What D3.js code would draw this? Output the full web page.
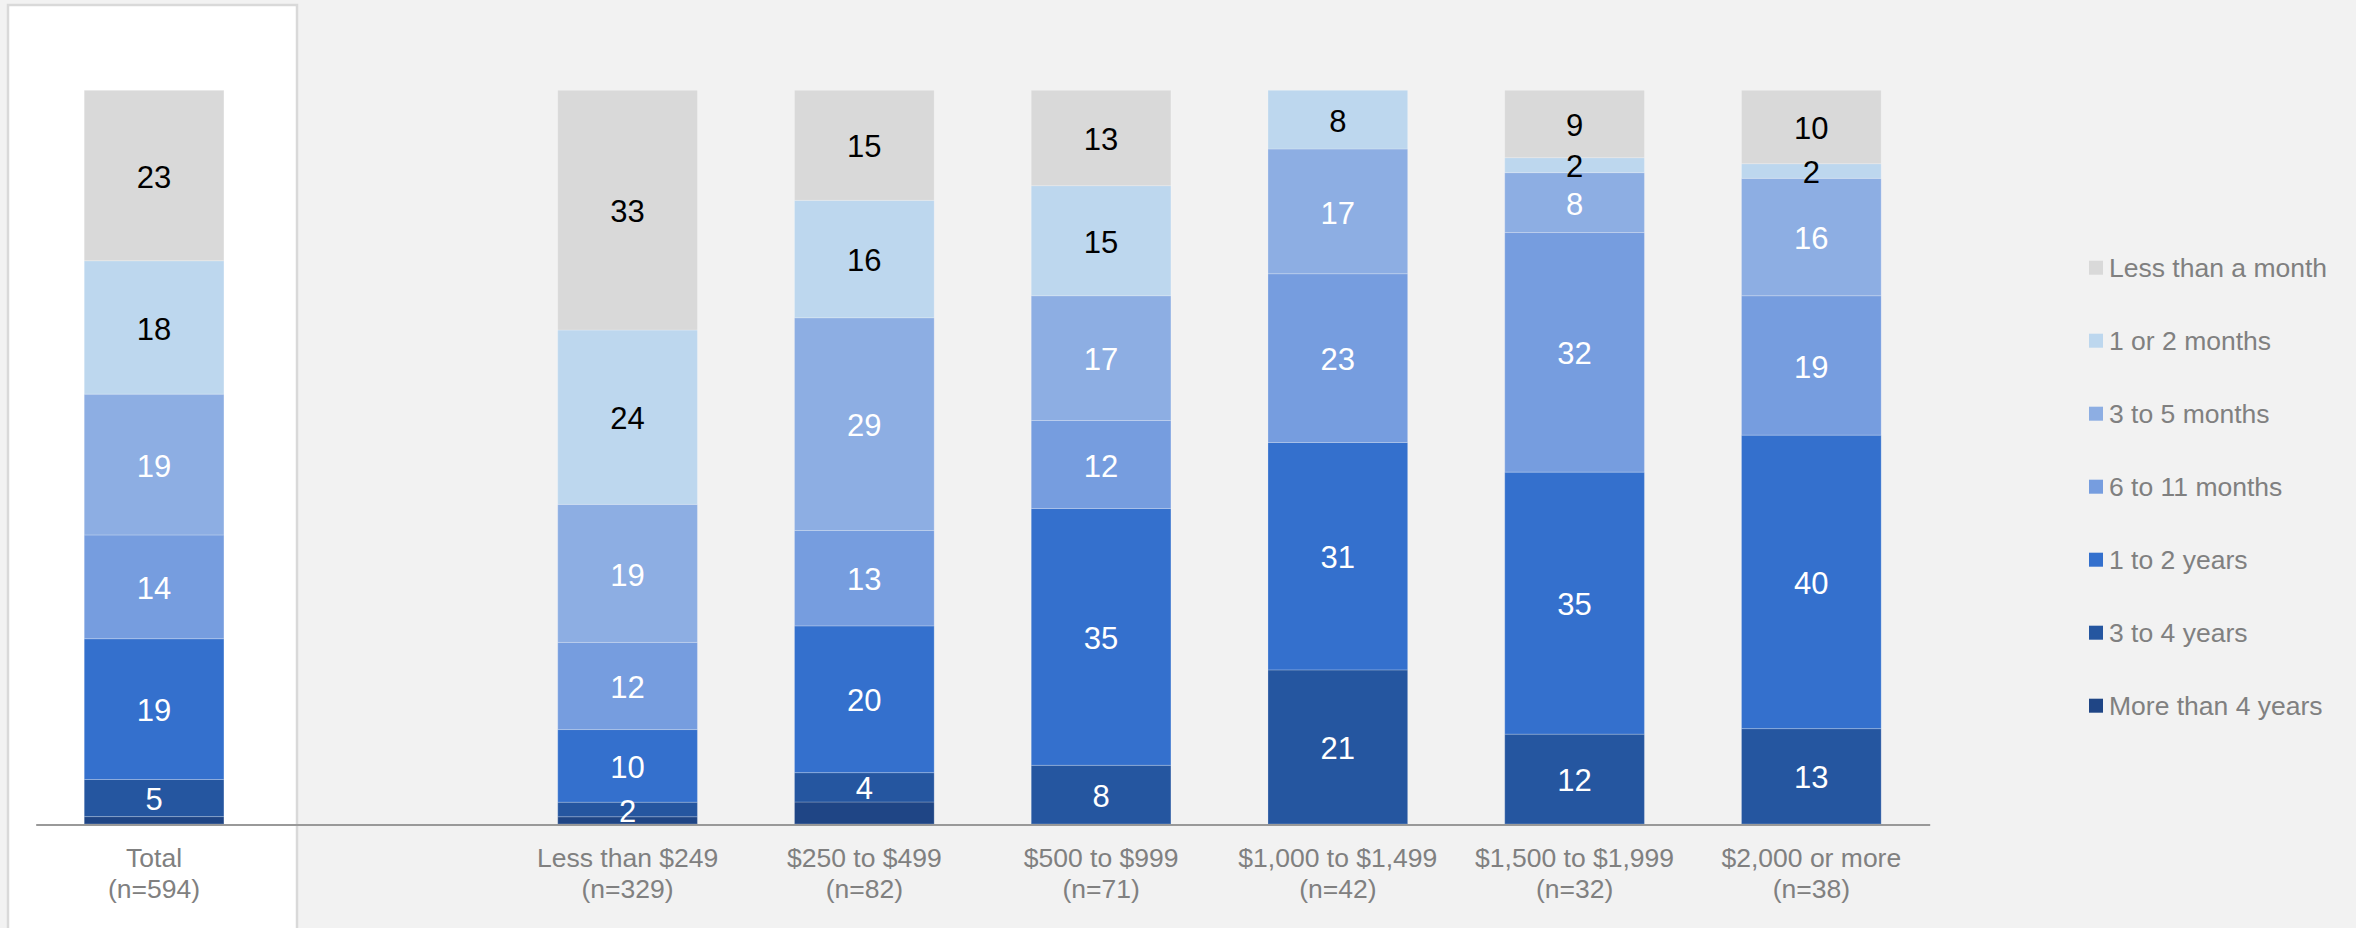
<!DOCTYPE html>
<html>
<head>
<meta charset="utf-8">
<script src="https://cdn.jsdelivr.net/npm/d3@7"></script>
<style>
  html, body { margin: 0; padding: 0; background: #f2f2f2; }
  svg { display: block; font-family: 'Liberation Sans', Arial, sans-serif; }
</style>
</head>
<body>
<svg id="chart"></svg>
<script>
// categories along the x axis (empty slot separates Total from the price groups)
let categories = ['Total', '', 'Less than $249', '$250 to $499', '$500 to $999',
  '$1,000 to $1,499', '$1,500 to $1,999', '$2,000 or more']
let sampleSizes = ['594', '', '329', '82', '71', '42', '32', '38']

// series, stacked bottom to top
let seriesNames = ['More than 4 years', '3 to 4 years', '1 to 2 years',
  '6 to 11 months', '3 to 5 months', '1 or 2 months', 'Less than a month']
let seriesColors = ['#1f4585', '#2556a0', '#3470cd', '#769ddf', '#8daee3', '#bdd7ee', '#d9d9d9']

// percentages per category (same order as categories, blank slot skipped)
let moreThan4Years = [1, 1, 3, 0, 0, 0, 0]
let threeTo4Years = [5, 2, 4, 8, 21, 12, 13]
let oneTo2Years = [19, 10, 20, 35, 31, 35, 40]
let sixTo11Months = [14, 12, 13, 12, 23, 32, 19]
let threeTo5Months = [19, 19, 29, 17, 17, 8, 16]
let oneOr2Months = [18, 24, 16, 15, 8, 2, 2]
let lessThanMonth = [23, 33, 15, 13, 0, 9, 10]

let seriesValues = [moreThan4Years, threeTo4Years, oneTo2Years, sixTo11Months,
  threeTo5Months, oneOr2Months, lessThanMonth]

let outerWidth = 2356
let outerHeight = 928

let svg = d3.select('svg#chart')
  .attr('width', outerWidth)
  .attr('height', outerHeight)

svg.append('rect')
  .attr('width', outerWidth)
  .attr('height', outerHeight)
  .attr('fill', '#f2f2f2')

// white panel behind the Total bar
svg.append('rect')
  .attr('x', 8)
  .attr('y', 5)
  .attr('width', 289)
  .attr('height', 940)
  .attr('fill', '#ffffff')
  .attr('stroke', '#d9d9d9')
  .attr('stroke-width', 2.5)

// build rows for the stack
let barCats = categories.filter(c => c !== '')
let rows = barCats.map((c, i) => {
  let row = { category: c }
  seriesNames.forEach((s, j) => { row[s] = seriesValues[j][i] })
  return row
})

let stack = d3.stack()
  .keys(seriesNames)
  .offset(d3.stackOffsetExpand)
let stacked = stack(rows)

let xScale = d3.scaleBand()
  .domain(categories)
  .range([35.7, 1929.7])
  .paddingInner(0.41)
  .paddingOuter(0.205)

let yScale = d3.scaleLinear()
  .domain([0, 1])
  .range([824, 90.3])

let colorScale = d3.scaleOrdinal()
  .domain(seriesNames)
  .range(seriesColors)

// bars
let layers = svg.append('g')
  .selectAll('g.layer')
  .data(stacked)
  .join('g')
  .attr('class', 'layer')
  .attr('fill', d => colorScale(d.key))

layers.selectAll('rect')
  .data(d => d.filter(p => p[1] - p[0] > 0))
  .join('rect')
  .attr('x', d => xScale(d.data.category))
  .attr('y', d => yScale(d[1]))
  .attr('width', xScale.bandwidth())
  .attr('height', d => yScale(d[0]) - yScale(d[1]))
  .attr('stroke', 'rgba(255,255,255,0.22)')
  .attr('stroke-width', 1)

// value labels (none for the thin bottom series)
let darkText = ['1 or 2 months', 'Less than a month']
stacked.forEach(layer => {
  if (layer.key === 'More than 4 years') return
  svg.append('g')
    .selectAll('text')
    .data(layer.filter(p => p.data[layer.key] > 0))
    .join('text')
    .attr('x', d => xScale(d.data.category) + xScale.bandwidth() / 2)
    .attr('y', d => (yScale(d[0]) + yScale(d[1])) / 2 + 1)
    .attr('dy', '0.36em')
    .attr('text-anchor', 'middle')
    .attr('font-size', 31)
    .attr('fill', darkText.includes(layer.key) ? '#000000' : '#ffffff')
    .text(d => d.data[layer.key])
})

// x axis with two-line labels
let xAxis = d3.axisBottom(xScale).tickSize(0).tickSizeOuter(0).tickFormat('')
let axisG = svg.append('g')
  .attr('transform', 'translate(0,824.5)')
  .call(xAxis)
axisG.select('.domain').attr('stroke', '#999999').attr('stroke-width', 2)

axisG.selectAll('.tick').each(function (d, i) {
  if (d === '') return
  let t = d3.select(this).append('text')
    .attr('text-anchor', 'middle')
    .attr('fill', '#808080')
    .attr('font-size', 26.5)
    .attr('stroke', 'none')
  t.append('tspan').attr('x', 0).attr('y', 42).text(d)
  t.append('tspan').attr('x', 0).attr('y', 73).text('(n=' + sampleSizes[i] + ')')
})

// legend, top to bottom
let legendNames = seriesNames.slice().reverse()
let legendY = d3.scalePoint()
  .domain(legendNames)
  .range([267.7, 705.7])

let legend = svg.append('g')
  .selectAll('g')
  .data(legendNames)
  .join('g')
  .attr('transform', d => 'translate(2089,' + legendY(d) + ')')

legend.append('rect')
  .attr('x', 0)
  .attr('y', -7)
  .attr('width', 14)
  .attr('height', 14)
  .attr('fill', d => colorScale(d))

legend.append('text')
  .attr('x', 20)
  .attr('y', 0)
  .attr('dy', '0.36em')
  .attr('font-size', 26.5)
  .attr('fill', '#808080')
  .text(d => d)
</script>
</body>
</html>
